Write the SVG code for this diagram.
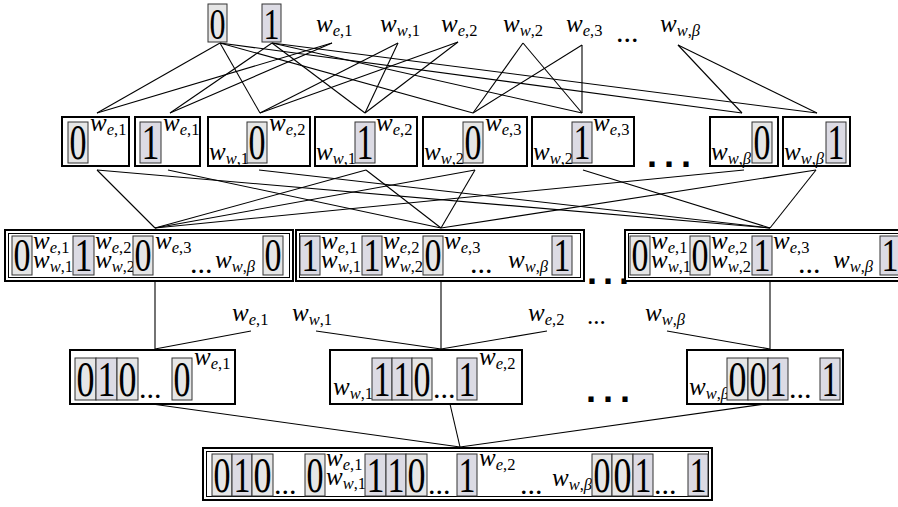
<svg xmlns="http://www.w3.org/2000/svg" width="898" height="507" viewBox="0 0 898 507">
<style>
.lab{font-family:"Liberation Serif","DejaVu Serif",serif;font-style:italic;font-size:25px;fill:#000}
.sb{font-size:16.5px}
.up{font-style:normal}
.dg{font-family:"Liberation Serif","DejaVu Serif",serif;fill:#000}
.f1{font-size:44px}.f2{font-size:50px}.f3{font-size:46px}.f4{font-size:51px}
.d0{fill:#e6e6e6;stroke:#333;stroke-width:1}
.d1{fill:#dcdbe4;stroke:#333;stroke-width:1}
.box{fill:#fff;stroke:#000;stroke-width:2}
.inner{fill:none;stroke:#000;stroke-width:1}
.sq{font-family:"Liberation Sans",sans-serif;font-weight:bold;font-size:36px;letter-spacing:7px;fill:#000}
.dots{font-family:"Liberation Serif",serif;font-size:30px;fill:#000}
.mdots{font-family:"Liberation Serif",serif;font-size:25px;fill:#000}
#edges line{stroke:#000;stroke-width:1.1}
</style>
<rect width="898" height="507" fill="#fff"/>
<g id="edges">
<line x1="220" y1="43" x2="97" y2="113"/><line x1="220" y1="43" x2="260" y2="113"/><line x1="220" y1="43" x2="473" y2="113"/><line x1="220" y1="43" x2="742" y2="113"/>
<line x1="272" y1="43" x2="170" y2="113"/><line x1="272" y1="43" x2="365" y2="113"/><line x1="272" y1="43" x2="582" y2="113"/><line x1="272" y1="43" x2="817" y2="113"/>
<line x1="332" y1="43" x2="97" y2="113"/><line x1="332" y1="43" x2="170" y2="113"/>
<line x1="398" y1="43" x2="260" y2="113"/><line x1="398" y1="43" x2="365" y2="113"/>
<line x1="458" y1="42" x2="260" y2="113"/><line x1="458" y1="42" x2="365" y2="113"/>
<line x1="523" y1="43" x2="473" y2="113"/><line x1="523" y1="43" x2="582" y2="113"/>
<line x1="582" y1="45" x2="473" y2="113"/><line x1="582" y1="45" x2="582" y2="113"/>
<line x1="678" y1="45" x2="742" y2="113"/><line x1="678" y1="45" x2="817" y2="113"/>
<line x1="97" y1="170" x2="155" y2="228"/><line x1="366" y1="170" x2="155" y2="228"/><line x1="475" y1="170" x2="155" y2="228"/><line x1="744" y1="170" x2="155" y2="228"/>
<line x1="168" y1="170" x2="441" y2="228"/><line x1="366" y1="170" x2="441" y2="228"/><line x1="475" y1="170" x2="441" y2="228"/><line x1="816" y1="170" x2="441" y2="228"/>
<line x1="97" y1="170" x2="770" y2="228"/><line x1="259" y1="170" x2="770" y2="228"/><line x1="583" y1="170" x2="770" y2="228"/><line x1="816" y1="170" x2="770" y2="228"/>
<line x1="155" y1="281" x2="155" y2="349"/><line x1="441" y1="281" x2="441" y2="349"/><line x1="770" y1="281" x2="770" y2="349"/>
<line x1="155" y1="349" x2="251" y2="331"/><line x1="316" y1="331" x2="441" y2="349"/><line x1="441" y1="349" x2="547" y2="331"/><line x1="667" y1="331" x2="770" y2="349"/>
<line x1="152" y1="404" x2="460" y2="447"/><line x1="450" y1="404" x2="460" y2="447"/><line x1="765" y1="404" x2="460" y2="447"/>
</g>
<g id="top-inputs">
<rect class="d0" x="208" y="4" width="19" height="38"/><text class="dg f1" x="209.5" y="39" textLength="16" lengthAdjust="spacingAndGlyphs">0</text>
<rect class="d1" x="262" y="4" width="19" height="38"/><text class="dg f1" x="263.5" y="39" textLength="16" lengthAdjust="spacingAndGlyphs">1</text>
<text class="lab" x="316" y="32">w<tspan class="sb" dy="4">e<tspan class="up">,1</tspan></tspan></text>
<text class="lab" x="380" y="32">w<tspan class="sb" dy="4">w<tspan class="up">,1</tspan></tspan></text>
<text class="lab" x="441" y="32">w<tspan class="sb" dy="4">e<tspan class="up">,2</tspan></tspan></text>
<text class="lab" x="503" y="32">w<tspan class="sb" dy="4">w<tspan class="up">,2</tspan></tspan></text>
<text class="lab" x="566" y="32">w<tspan class="sb" dy="4">e<tspan class="up">,3</tspan></tspan></text>
<text class="dots" x="616" y="42">...</text>
<text class="lab" x="660" y="32">w<tspan class="sb" dy="4">w<tspan class="up">,</tspan>β</tspan></text>
</g>
<g id="l1-1"><rect class="box" x="62" y="117" width="67" height="49"/><rect class="d0" x="68" y="122" width="20" height="41"/><text class="dg f2" x="69.5" y="159" textLength="17" lengthAdjust="spacingAndGlyphs">0</text><text class="lab" x="90" y="131">w<tspan class="sb" dy="4">e<tspan class="up">,1</tspan></tspan></text></g>
<g id="l1-2"><rect class="box" x="135" y="117" width="65" height="49"/><rect class="d1" x="140" y="122" width="21" height="41"/><text class="dg f2" x="141.5" y="159" textLength="18" lengthAdjust="spacingAndGlyphs">1</text><text class="lab" x="163" y="131">w<tspan class="sb" dy="4">e<tspan class="up">,1</tspan></tspan></text></g>
<g id="l1-3"><rect class="box" x="208" y="117" width="102" height="49"/><text class="lab" x="209" y="160">w<tspan class="sb" dy="4">w<tspan class="up">,1</tspan></tspan></text><rect class="d0" x="247" y="122" width="20" height="41"/><text class="dg f2" x="248.5" y="159" textLength="17" lengthAdjust="spacingAndGlyphs">0</text><text class="lab" x="269" y="131">w<tspan class="sb" dy="4">e<tspan class="up">,2</tspan></tspan></text></g>
<g id="l1-4"><rect class="box" x="315" y="117" width="102" height="49"/><text class="lab" x="316" y="160">w<tspan class="sb" dy="4">w<tspan class="up">,1</tspan></tspan></text><rect class="d1" x="355" y="122" width="20" height="41"/><text class="dg f2" x="356.5" y="159" textLength="17" lengthAdjust="spacingAndGlyphs">1</text><text class="lab" x="376" y="131">w<tspan class="sb" dy="4">e<tspan class="up">,2</tspan></tspan></text></g>
<g id="l1-5"><rect class="box" x="423" y="117" width="104" height="49"/><text class="lab" x="424" y="160">w<tspan class="sb" dy="4">w<tspan class="up">,2</tspan></tspan></text><rect class="d0" x="463" y="122" width="20" height="41"/><text class="dg f2" x="464.5" y="159" textLength="17" lengthAdjust="spacingAndGlyphs">0</text><text class="lab" x="485" y="131">w<tspan class="sb" dy="4">e<tspan class="up">,3</tspan></tspan></text></g>
<g id="l1-6"><rect class="box" x="532" y="117" width="102" height="49"/><text class="lab" x="533" y="160">w<tspan class="sb" dy="4">w<tspan class="up">,2</tspan></tspan></text><rect class="d1" x="572" y="122" width="20" height="41"/><text class="dg f2" x="573.5" y="159" textLength="17" lengthAdjust="spacingAndGlyphs">1</text><text class="lab" x="593" y="131">w<tspan class="sb" dy="4">e<tspan class="up">,3</tspan></tspan></text></g>
<text class="sq" x="647" y="167">...</text>
<g id="l1-7"><rect class="box" x="710" y="117" width="68" height="49"/><text class="lab" x="711" y="160">w<tspan class="sb" dy="4">w<tspan class="up">,</tspan>β</tspan></text><rect class="d0" x="752" y="122" width="20" height="41"/><text class="dg f2" x="753.5" y="159" textLength="17" lengthAdjust="spacingAndGlyphs">0</text></g>
<g id="l1-8"><rect class="box" x="783" y="117" width="67" height="49"/><text class="lab" x="784" y="160">w<tspan class="sb" dy="4">w<tspan class="up">,</tspan>β</tspan></text><rect class="d1" x="826" y="122" width="20" height="41"/><text class="dg f2" x="827.5" y="159" textLength="17" lengthAdjust="spacingAndGlyphs">1</text></g>
<g id="l2-a"><rect class="box" x="5" y="230" width="288" height="51"/><rect class="inner" x="8.5" y="233.5" width="281" height="44"/>
<rect class="d0" x="12" y="236" width="20" height="39"/><text class="dg f3" x="13.5" y="271" textLength="17" lengthAdjust="spacingAndGlyphs">0</text>
<text class="lab" x="33" y="249">w<tspan class="sb" dy="4">e<tspan class="up">,1</tspan></tspan></text><text class="lab" x="33" y="268">w<tspan class="sb" dy="4">w<tspan class="up">,1</tspan></tspan></text>
<rect class="d1" x="73" y="236" width="21" height="39"/><text class="dg f3" x="74.5" y="271" textLength="18" lengthAdjust="spacingAndGlyphs">1</text>
<text class="lab" x="95" y="249">w<tspan class="sb" dy="4">e<tspan class="up">,2</tspan></tspan></text><text class="lab" x="95" y="268">w<tspan class="sb" dy="4">w<tspan class="up">,2</tspan></tspan></text>
<rect class="d0" x="133" y="236" width="20" height="39"/><text class="dg f3" x="134.5" y="271" textLength="17" lengthAdjust="spacingAndGlyphs">0</text>
<text class="lab" x="155" y="249">w<tspan class="sb" dy="4">e<tspan class="up">,3</tspan></tspan></text>
<text class="dots" x="190" y="273">...</text>
<text class="lab" x="215" y="268">w<tspan class="sb" dy="4">w<tspan class="up">,</tspan>β</tspan></text>
<rect class="d0" x="263" y="236" width="20" height="39"/><text class="dg f3" x="264.5" y="271" textLength="17" lengthAdjust="spacingAndGlyphs">0</text></g>
<g id="l2-b"><rect class="box" x="296" y="230" width="288" height="51"/><rect class="inner" x="299.5" y="233.5" width="281" height="44"/>
<rect class="d1" x="300" y="236" width="20" height="39"/><text class="dg f3" x="301.5" y="271" textLength="17" lengthAdjust="spacingAndGlyphs">1</text>
<text class="lab" x="321" y="249">w<tspan class="sb" dy="4">e<tspan class="up">,1</tspan></tspan></text><text class="lab" x="321" y="268">w<tspan class="sb" dy="4">w<tspan class="up">,1</tspan></tspan></text>
<rect class="d1" x="362" y="236" width="20" height="39"/><text class="dg f3" x="363.5" y="271" textLength="17" lengthAdjust="spacingAndGlyphs">1</text>
<text class="lab" x="383" y="249">w<tspan class="sb" dy="4">e<tspan class="up">,2</tspan></tspan></text><text class="lab" x="383" y="268">w<tspan class="sb" dy="4">w<tspan class="up">,2</tspan></tspan></text>
<rect class="d0" x="423" y="236" width="20" height="39"/><text class="dg f3" x="424.5" y="271" textLength="17" lengthAdjust="spacingAndGlyphs">0</text>
<text class="lab" x="444" y="249">w<tspan class="sb" dy="4">e<tspan class="up">,3</tspan></tspan></text>
<text class="dots" x="470" y="273">...</text>
<text class="lab" x="508" y="268">w<tspan class="sb" dy="4">w<tspan class="up">,</tspan>β</tspan></text>
<rect class="d1" x="552" y="236" width="20" height="39"/><text class="dg f3" x="553.5" y="271" textLength="17" lengthAdjust="spacingAndGlyphs">1</text></g>
<text class="sq" x="587" y="284" style="letter-spacing:6px">...</text>
<g id="l2-c"><rect class="box" x="625" y="230" width="288" height="51"/><rect class="inner" x="628.5" y="233.5" width="281" height="44"/>
<rect class="d0" x="630" y="236" width="20" height="39"/><text class="dg f3" x="631.5" y="271" textLength="17" lengthAdjust="spacingAndGlyphs">0</text>
<text class="lab" x="651" y="249">w<tspan class="sb" dy="4">e<tspan class="up">,1</tspan></tspan></text><text class="lab" x="651" y="268">w<tspan class="sb" dy="4">w<tspan class="up">,1</tspan></tspan></text>
<rect class="d0" x="690" y="236" width="20" height="39"/><text class="dg f3" x="691.5" y="271" textLength="17" lengthAdjust="spacingAndGlyphs">0</text>
<text class="lab" x="711" y="249">w<tspan class="sb" dy="4">e<tspan class="up">,2</tspan></tspan></text><text class="lab" x="711" y="268">w<tspan class="sb" dy="4">w<tspan class="up">,2</tspan></tspan></text>
<rect class="d1" x="752" y="236" width="20" height="39"/><text class="dg f3" x="753.5" y="271" textLength="17" lengthAdjust="spacingAndGlyphs">1</text>
<text class="lab" x="773" y="249">w<tspan class="sb" dy="4">e<tspan class="up">,3</tspan></tspan></text>
<text class="dots" x="798" y="273">...</text>
<text class="lab" x="833" y="268">w<tspan class="sb" dy="4">w<tspan class="up">,</tspan>β</tspan></text>
<rect class="d1" x="880" y="236" width="20" height="39"/><text class="dg f3" x="881.5" y="271" textLength="17" lengthAdjust="spacingAndGlyphs">1</text></g>
<g id="mid-labels">
<text class="lab" x="232" y="321">w<tspan class="sb" dy="4">e<tspan class="up">,1</tspan></tspan></text>
<text class="lab" x="292" y="321">w<tspan class="sb" dy="4">w<tspan class="up">,1</tspan></tspan></text>
<text class="lab" x="528" y="321">w<tspan class="sb" dy="4">e<tspan class="up">,2</tspan></tspan></text>
<text class="mdots" x="587" y="324">...</text>
<text class="lab" x="645" y="321">w<tspan class="sb" dy="4">w<tspan class="up">,</tspan>β</tspan></text>
</g>
<g id="l3-1"><rect class="box" x="70" y="350" width="165" height="54"/>
<rect class="d0" x="75" y="358" width="21" height="42"/><text class="dg f4" x="76.5" y="396" textLength="18" lengthAdjust="spacingAndGlyphs">0</text>
<rect class="d1" x="96" y="358" width="21" height="42"/><text class="dg f4" x="97.5" y="396" textLength="18" lengthAdjust="spacingAndGlyphs">1</text>
<rect class="d0" x="117" y="358" width="21" height="42"/><text class="dg f4" x="118.5" y="396" textLength="18" lengthAdjust="spacingAndGlyphs">0</text>
<text class="dots" x="139" y="398">...</text>
<rect class="d0" x="172" y="358" width="20" height="42"/><text class="dg f4" x="173.5" y="396" textLength="17" lengthAdjust="spacingAndGlyphs">0</text>
<text class="lab" x="194" y="365">w<tspan class="sb" dy="4">e<tspan class="up">,1</tspan></tspan></text></g>
<g id="l3-2"><rect class="box" x="330" y="350" width="192" height="54"/>
<text class="lab" x="333" y="395">w<tspan class="sb" dy="4">w<tspan class="up">,1</tspan></tspan></text>
<rect class="d1" x="372" y="358" width="20" height="42"/><text class="dg f4" x="373.5" y="396" textLength="17" lengthAdjust="spacingAndGlyphs">1</text>
<rect class="d1" x="392" y="358" width="20" height="42"/><text class="dg f4" x="393.5" y="396" textLength="17" lengthAdjust="spacingAndGlyphs">1</text>
<rect class="d0" x="412" y="358" width="20" height="42"/><text class="dg f4" x="413.5" y="396" textLength="17" lengthAdjust="spacingAndGlyphs">0</text>
<text class="dots" x="433" y="398">...</text>
<rect class="d1" x="457" y="358" width="20" height="42"/><text class="dg f4" x="458.5" y="396" textLength="17" lengthAdjust="spacingAndGlyphs">1</text>
<text class="lab" x="479" y="365">w<tspan class="sb" dy="4">e<tspan class="up">,2</tspan></tspan></text></g>
<text class="sq" x="586" y="402">...</text>
<g id="l3-3"><rect class="box" x="687" y="350" width="156" height="54"/>
<text class="lab" x="689" y="395">w<tspan class="sb" dy="4">w<tspan class="up">,</tspan>β</tspan></text>
<rect class="d0" x="727" y="358" width="21" height="42"/><text class="dg f4" x="728.5" y="396" textLength="18" lengthAdjust="spacingAndGlyphs">0</text>
<rect class="d0" x="748" y="358" width="20" height="42"/><text class="dg f4" x="749.5" y="396" textLength="17" lengthAdjust="spacingAndGlyphs">0</text>
<rect class="d1" x="768" y="358" width="20" height="42"/><text class="dg f4" x="769.5" y="396" textLength="17" lengthAdjust="spacingAndGlyphs">1</text>
<text class="dots" x="789" y="398">...</text>
<rect class="d1" x="820" y="358" width="20" height="42"/><text class="dg f4" x="821.5" y="396" textLength="17" lengthAdjust="spacingAndGlyphs">1</text></g>
<g id="final"><rect class="box" x="203" y="448" width="509" height="52"/><rect class="inner" x="206.5" y="451.5" width="502" height="45"/>
<rect class="d0" x="212" y="454" width="20" height="42"/><text class="dg f4" x="213.5" y="492" textLength="17" lengthAdjust="spacingAndGlyphs">0</text>
<rect class="d1" x="232" y="454" width="20" height="42"/><text class="dg f4" x="233.5" y="492" textLength="17" lengthAdjust="spacingAndGlyphs">1</text>
<rect class="d0" x="252" y="454" width="21" height="42"/><text class="dg f4" x="253.5" y="492" textLength="18" lengthAdjust="spacingAndGlyphs">0</text>
<text class="dots" x="274" y="494">...</text>
<rect class="d0" x="305" y="454" width="20" height="42"/><text class="dg f4" x="306.5" y="492" textLength="17" lengthAdjust="spacingAndGlyphs">0</text>
<text class="lab" x="326" y="466">w<tspan class="sb" dy="4">e<tspan class="up">,1</tspan></tspan></text><text class="lab" x="326" y="485">w<tspan class="sb" dy="4">w<tspan class="up">,1</tspan></tspan></text>
<rect class="d1" x="365" y="454" width="21" height="42"/><text class="dg f4" x="366.5" y="492" textLength="18" lengthAdjust="spacingAndGlyphs">1</text>
<rect class="d1" x="386" y="454" width="20" height="42"/><text class="dg f4" x="387.5" y="492" textLength="17" lengthAdjust="spacingAndGlyphs">1</text>
<rect class="d0" x="406" y="454" width="21" height="42"/><text class="dg f4" x="407.5" y="492" textLength="18" lengthAdjust="spacingAndGlyphs">0</text>
<text class="dots" x="428" y="494">...</text>
<rect class="d1" x="457" y="454" width="20" height="42"/><text class="dg f4" x="458.5" y="492" textLength="17" lengthAdjust="spacingAndGlyphs">1</text>
<text class="lab" x="479" y="466">w<tspan class="sb" dy="4">e<tspan class="up">,2</tspan></tspan></text>
<text class="dots" x="520" y="494">...</text>
<text class="lab" x="552" y="486">w<tspan class="sb" dy="4">w<tspan class="up">,</tspan>β</tspan></text>
<rect class="d0" x="592" y="454" width="20" height="42"/><text class="dg f4" x="593.5" y="492" textLength="17" lengthAdjust="spacingAndGlyphs">0</text>
<rect class="d0" x="612" y="454" width="21" height="42"/><text class="dg f4" x="613.5" y="492" textLength="18" lengthAdjust="spacingAndGlyphs">0</text>
<rect class="d1" x="633" y="454" width="20" height="42"/><text class="dg f4" x="634.5" y="492" textLength="17" lengthAdjust="spacingAndGlyphs">1</text>
<text class="dots" x="654" y="494">...</text>
<rect class="d1" x="688" y="454" width="20" height="42"/><text class="dg f4" x="689.5" y="492" textLength="17" lengthAdjust="spacingAndGlyphs">1</text></g>
</svg>
